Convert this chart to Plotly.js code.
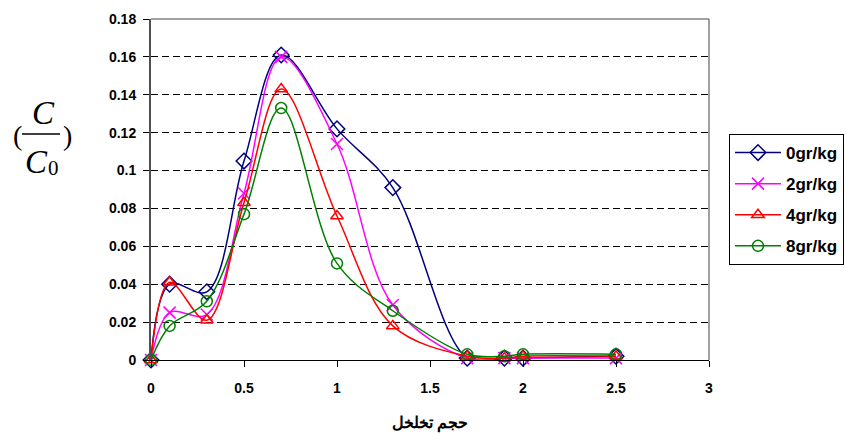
<!DOCTYPE html>
<html>
<head>
<meta charset="utf-8">
<script src="https://cdn.plot.ly/plotly-3.0.1.min.js"></script>
<style>html,body{margin:0;padding:0;background:#fff;}#chart{width:846px;height:439px;}</style>
</head>
<body>
<div id="chart"></div>
<script>
// ---- data ----
var xValues = [0, 0.1, 0.3, 0.5, 0.7, 1.0, 1.3, 1.7, 1.9, 2.0, 2.5];
var seriesNames = ["0gr/kg", "2gr/kg", "4gr/kg", "8gr/kg"];
var s0 = [0, 0.040, 0.036, 0.105, 0.161, 0.122, 0.091, 0.001, 0.001, 0.001, 0.002];
var s2 = [0, 0.025, 0.024, 0.088, 0.160, 0.114, 0.029, 0.001, 0.001, 0.001, 0.001];
var s4 = [0, 0.041, 0.021, 0.083, 0.143, 0.076, 0.018, 0.002, 0.001, 0.002, 0.002];
var s8 = [0, 0.018, 0.031, 0.077, 0.133, 0.051, 0.026, 0.003, 0.002, 0.003, 0.003];
var yTickVals = [0, 0.02, 0.04, 0.06, 0.08, 0.1, 0.12, 0.14, 0.16, 0.18];
var yTickText = ["0", "0.02", "0.04", "0.06", "0.08", "0.1", "0.12", "0.14", "0.16", "0.18"];
var xTickVals = [0, 0.5, 1, 1.5, 2, 2.5, 3];
var xTickText = ["0", "0.5", "1", "1.5", "2", "2.5", "3"];
var xTitle = "حجم تخلخل";

// ---- styles ----
var W = 846, H = 439, ML = 151, MR = 137, MT = 19, MB = 79;
var PW = W - ML - MR, PH = H - MT - MB;
function px(x) { return (x - ML) / PW; }
function py(y) { return (H - MB - y) / PH; }

var styles = [
  {color: "#000080", symbol: "diamond-open", size: 12},
  {color: "#FF00FF", symbol: "x-thin-open", size: 12},
  {color: "#FF0000", symbol: "triangle-up-open", size: 11},
  {color: "#008000", symbol: "circle-open", size: 11}
];
var allSeries = [s0, s2, s4, s8];

var traces = allSeries.map(function (s, i) {
  return {
    x: xValues, y: s, name: seriesNames[i], type: "scatter", mode: "lines+markers",
    legendgroup: "g" + i,
    line: {color: styles[i].color, width: 1.5, shape: "spline", smoothing: 1},
    marker: {symbol: styles[i].symbol, size: styles[i].size, color: styles[i].color,
             line: {color: styles[i].color, width: 1.5}},
    cliponaxis: false
  };
});

var tickFont = {family: "Liberation Sans, Arial, sans-serif", size: 14, color: "#000", weight: "bold"};
var legendFont = {family: "Liberation Sans, Arial, sans-serif", size: 17, color: "#000", weight: "bold"};
var titleFont = {family: "Liberation Sans, Arial, sans-serif", size: 16, color: "#000", weight: "bold"};
var serif = "Liberation Serif, Times New Roman, serif";

var layout = {
  width: W, height: H, autosize: false,
  margin: {l: ML, r: MR, t: MT, b: MB, pad: 0, autoexpand: false},
  paper_bgcolor: "#fff", plot_bgcolor: "#fff",
  showlegend: true,
  legend: {
    x: px(729), y: py(134), xanchor: "left", yanchor: "top",
    bordercolor: "#000", borderwidth: 1, bgcolor: "#fff",
    font: legendFont, traceorder: "grouped", tracegroupgap: 6, itemwidth: 46
  },
  xaxis: {
    range: [0, 3], tickmode: "array", tickvals: xTickVals, ticktext: xTickText,
    showgrid: false, zeroline: false, showline: true, linecolor: "#000", linewidth: 1,
    ticks: "outside", ticklen: 6, tickcolor: "#000", tickfont: tickFont,
    ticklabelstandoff: 9, automargin: false,
    title: {text: xTitle, font: titleFont, standoff: 22}
  },
  yaxis: {
    range: [0, 0.18], tickmode: "array", tickvals: yTickVals, ticktext: yTickText,
    showgrid: true, gridcolor: "#000", gridwidth: 1, griddash: "7px,4px",
    zeroline: false, showline: true, linecolor: "#505050", linewidth: 2,
    ticks: "outside", ticklen: 6, tickcolor: "#000", tickfont: tickFont,
    ticklabelstandoff: 4, automargin: false
  },
  shapes: [
    {type: "line", xref: "paper", yref: "paper", x0: 0, x1: 1, y0: 1, y1: 1, line: {color: "#808080", width: 1.5}},
    {type: "line", xref: "paper", yref: "paper", x0: 1, x1: 1, y0: 0, y1: 1, line: {color: "#808080", width: 1.5}},
    {type: "line", xref: "paper", yref: "paper", x0: px(22), x1: px(60), y0: py(134), y1: py(134), line: {color: "#000", width: 1.5}}
  ],
  annotations: [
    {xref: "paper", yref: "paper", x: px(17), y: py(135), text: "(", showarrow: false, xanchor: "center", yanchor: "middle",
     font: {family: serif, size: 28, color: "#000"}},
    {xref: "paper", yref: "paper", x: px(67), y: py(135), text: ")", showarrow: false, xanchor: "center", yanchor: "middle",
     font: {family: serif, size: 28, color: "#000"}},
    {xref: "paper", yref: "paper", x: px(43), y: py(113), text: "<i>C</i>", showarrow: false, xanchor: "center", yanchor: "middle",
     font: {family: serif, size: 33, color: "#000"}},
    {xref: "paper", yref: "paper", x: px(36), y: py(162), text: "<i>C</i>", showarrow: false, xanchor: "center", yanchor: "middle",
     font: {family: serif, size: 33, color: "#000"}},
    {xref: "paper", yref: "paper", x: px(53), y: py(168), text: "0", showarrow: false, xanchor: "center", yanchor: "middle",
     font: {family: serif, size: 21, color: "#000"}}
  ]
};

Plotly.newPlot("chart", traces, layout, {staticPlot: true, displayModeBar: false});
</script>
</body>
</html>
